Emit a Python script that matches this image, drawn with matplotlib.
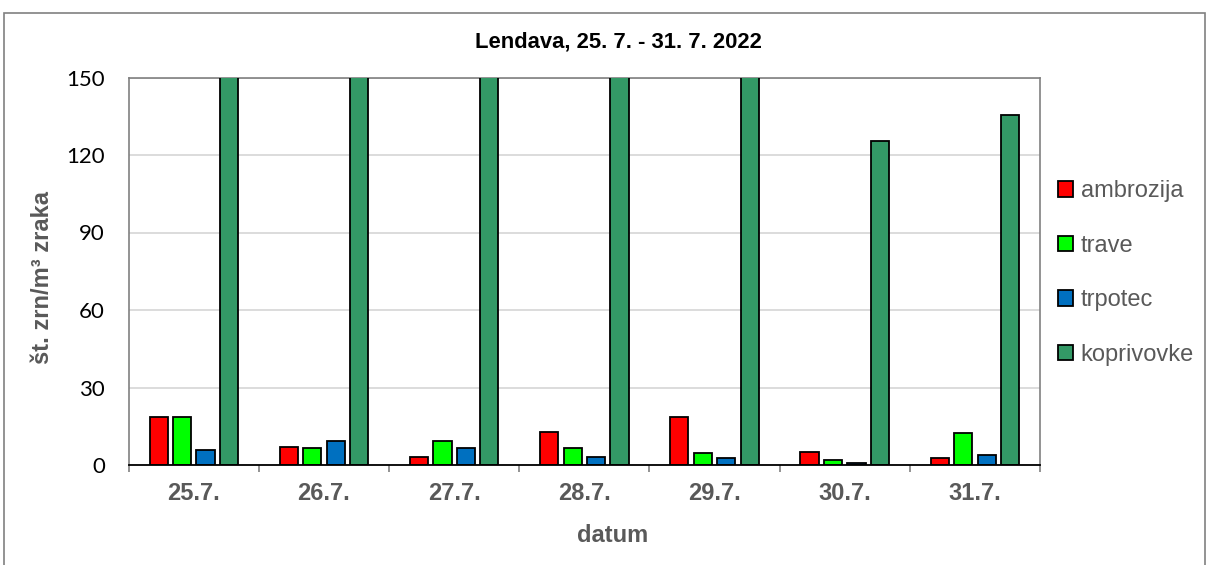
import numpy as np
import matplotlib.pyplot as plt
from matplotlib.patches import Rectangle

dates = ['25.7.', '26.7.', '27.7.', '28.7.', '29.7.', '30.7.', '31.7.']
ambrozija = [18.6, 7.0, 3.1, 12.8, 18.6, 5.0, 2.7]
trave = [18.6, 6.6, 9.3, 6.6, 4.6, 1.9, 12.4]
trpotec = [5.8, 9.3, 6.6, 3.1, 2.7, 0.8, 3.9]
koprivovke = [190, 220, 175, 205, 240, 125.5, 135.3]  # first five run off the top

series = [('ambrozija', ambrozija, '#FF0000'),
          ('trave', trave, '#00FF00'),
          ('trpotec', trpotec, '#0070C0'),
          ('koprivovke', koprivovke, '#339966')]

W, H = 1208, 565
fig = plt.figure(figsize=(W / 100, H / 100), dpi=100)
ax = fig.add_axes([128.7 / W, 1 - 465 / H, (1040 - 128.7) / W, (465 - 77.5) / H])

x = np.arange(len(dates))
offsets = [-0.27, -0.09, 0.09, 0.27]
for (name, vals, col), off in zip(series, offsets):
    ax.bar(x + off, vals, width=0.14, color=col, edgecolor='black',
           linewidth=1.3, label=name, zorder=3)

ax.set_xlim(-0.5, len(dates) - 0.5)
ax.set_ylim(0, 150)
ax.set_yticks([0, 30, 60, 90, 120, 150])
ax.grid(axis='y', color='#D9D9D9', linewidth=1.3, zorder=0)
ax.tick_params(axis='y', length=0, pad=17, labelsize=16)
for lab in ax.get_yticklabels():
    lab.set_family(['Lato', 'DejaVu Sans'])

ax.set_xticks(x)
ax.set_xticklabels(dates, fontsize=17, fontweight='bold', color='#595959',
                   family='Liberation Sans')
ax.set_xticks(np.arange(-0.5, len(dates)), minor=True)
ax.tick_params(axis='x', which='major', length=0, pad=12)
ax.tick_params(axis='x', which='minor', length=5, color='#808080', width=1.2)

for side in ['top', 'right', 'left']:
    ax.spines[side].set_color('#808080')
    ax.spines[side].set_linewidth(1.2)
ax.spines['bottom'].set_color('black')
ax.spines['bottom'].set_linewidth(1.3)
ax.spines['bottom'].set_zorder(4)

fig.text(618 / W, 1 - 42 / H, 'Lendava, 25. 7. - 31. 7. 2022', ha='center', va='center',
         fontsize=15.8, fontweight='bold', family='Liberation Sans')
fig.text(612.5 / W, 1 - 536 / H, 'datum', ha='center', va='center', fontsize=17,
         fontweight='bold', color='#595959', family='Liberation Sans')
fig.text(43 / W, 1 - 278 / H, 'št. zrn/m³ zraka', ha='center', va='center', rotation=90,
         fontsize=17, fontweight='bold', color='#595959', family='Liberation Sans')

fig.legend(loc='center left', bbox_to_anchor=(1046 / W, 1 - 273 / H), frameon=False,
           borderpad=0, labelspacing=1.38, handlelength=0.64, handleheight=0.64,
           handletextpad=0.33, prop={'family': 'Liberation Sans', 'size': 17},
           labelcolor='#595959')

fig.add_artist(Rectangle((4 / W, -0.05), (1205 - 4) / W, 1.05 - 13 / H,
                         transform=fig.transFigure, fill=False,
                         edgecolor='#808080', linewidth=1.2))

fig.savefig('out.png', dpi=100)
